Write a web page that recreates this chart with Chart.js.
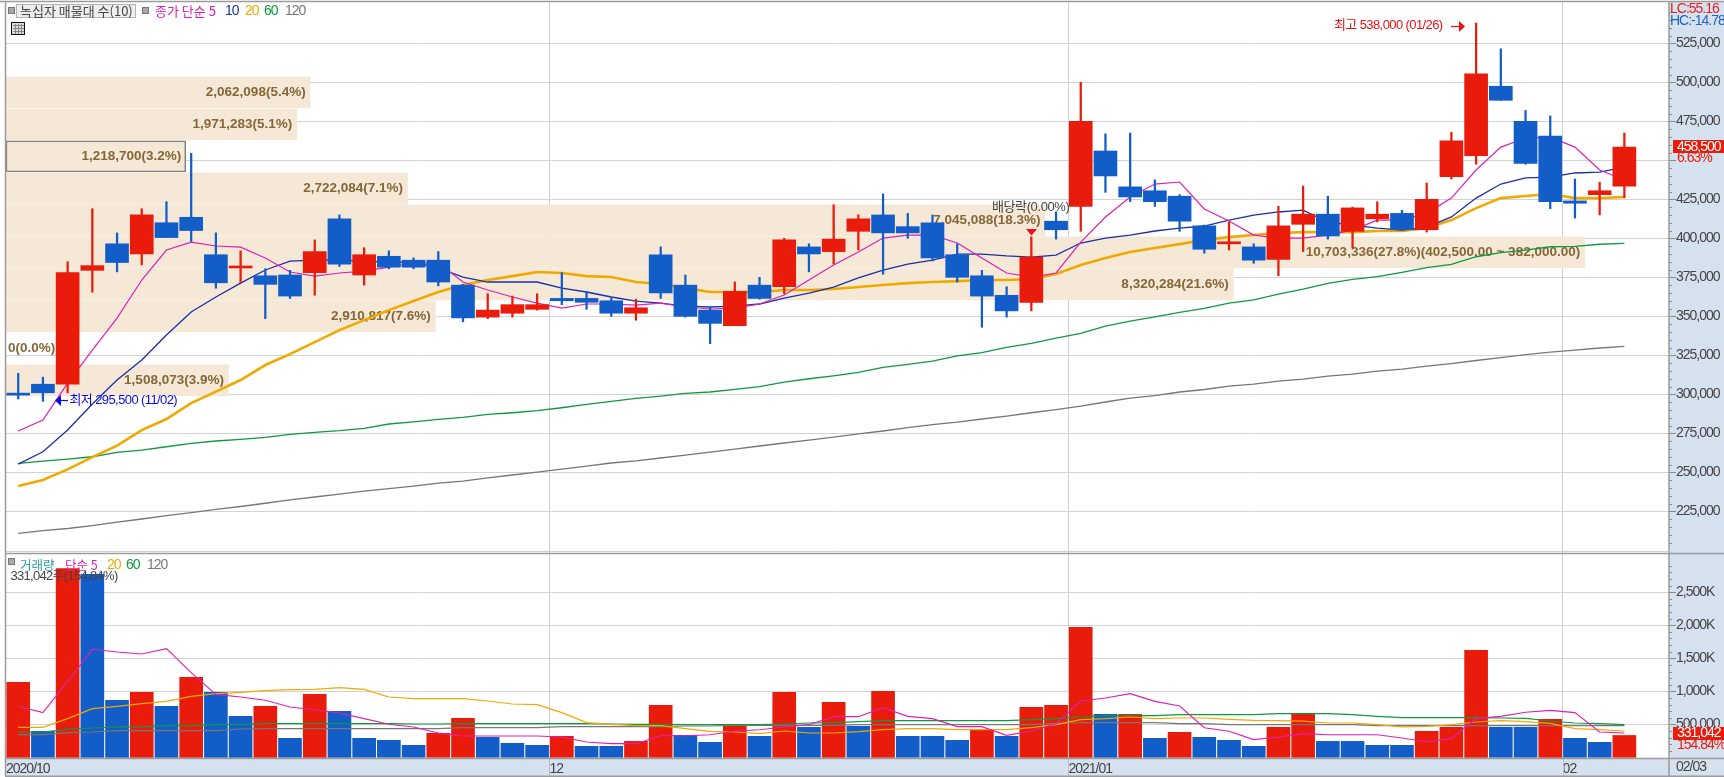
<!DOCTYPE html>
<html><head><meta charset="utf-8">
<style>html,body{margin:0;padding:0;background:#fff;overflow:hidden}canvas{display:block}</style>
<script src="https://cdn.jsdelivr.net/npm/chart.js@4/dist/chart.umd.min.js"></script>
</head><body><canvas id="c" width="1724" height="777"></canvas>
<script>
const opens=[300000,306500,306500,379500,396500,390000,410000,413500,389500,381000,376000,376500,378000,412500,376500,388500,386000,386000,370000,349500,352000,354500,361500,361500,360000,352000,389500,370000,354000,344000,370000,369000,394500,391500,404500,415000,407500,410000,389500,376000,363500,359000,411000,420500,456000,433000,430500,427000,408000,396500,394500,386500,409000,415500,404500,412500,416000,405500,439500,453000,497500,475000,465500,424000,428000,433500];
const highs=[313500,311000,385000,419000,403500,419000,423500,454500,403500,392000,380500,379500,399000,415000,394000,392000,387500,391500,370500,364500,363000,364500,378000,366000,361500,361000,394500,376500,356000,372000,375000,400000,396500,421500,415000,428500,416000,415000,396500,379500,369000,401000,417000,500000,467000,467500,437500,428000,408500,410500,396500,420500,433500,427000,420000,423500,418000,435500,468000,538000,521500,482000,478500,438000,436000,467500];
const lows=[297000,295500,301000,365500,378500,383000,400500,398000,368000,371500,348500,361500,363500,382000,370000,380500,380500,369500,346500,348500,349500,354000,357500,354500,350000,347500,361500,349500,332500,344000,361000,364500,378500,383500,392500,377000,400000,385500,372000,343000,349500,353500,399500,404500,429500,423500,420500,404500,390500,392500,384000,376000,391500,399500,394000,410500,405500,404000,438000,447500,488500,447500,419000,413000,415000,426000];
const closes=[299500,301000,378000,382500,384500,415000,400500,405000,371500,381000,370500,363000,391500,383500,389500,381500,381500,372000,349000,354000,357500,357500,360000,359000,352000,355500,365000,350000,345500,366000,361500,399000,390000,399500,412500,403500,403500,387500,375000,363000,353500,388000,405500,475000,440000,426500,423500,411000,393000,397500,386000,408000,415500,401500,419500,415500,405500,425000,462500,505500,488500,448000,423500,422500,430500,458500];
const ma5=[276500,283500,307200,328400,348900,373300,392500,397600,395100,394400,387400,378400,375800,377800,379000,381600,384200,384200,372000,366900,362400,358500,355300,357900,357900,357200,358500,356000,354700,355300,357900,363700,373300,382900,391200,400200,402100,402100,397000,387400,377800,375200,377800,397600,413700,426500,434800,436100,418800,411100,402100,400200,400200,402100,405300,411700,411700,416200,425800,443800,458500,464300,464900,458500,443800,437400];
const ma10=[255300,263200,277100,293800,309200,322000,338000,352800,362400,371300,379700,385400,386100,386100,385400,384800,384800,381000,375200,372000,372000,372000,368100,365600,362400,359800,358500,356600,356000,356600,357900,361700,364900,368800,374600,379700,383500,386100,389900,389900,388700,388000,389300,397000,400200,402100,404700,406600,407900,411700,414900,416900,418100,410400,408500,406600,405300,407200,413700,425800,434800,438700,439300,441900,442500,445700];
const ma20=[241200,245100,251900,259800,267100,277100,284200,294400,301700,309200,318800,325800,333500,341200,347600,354000,359800,365600,370100,373300,375800,378400,377800,375800,375200,372000,370700,368100,365600,365600,365600,366900,366900,367500,368800,370100,371300,372000,372600,373300,373300,373900,377100,382900,387400,391200,393800,396300,398900,400800,402100,403400,404000,404000,404000,404700,404700,406600,411700,419400,425800,427100,428400,425800,425800,426500];
const ma60=[255800,257200,258500,260000,262800,264300,266400,268600,270100,271200,272400,274400,275600,276700,278200,281000,282400,284000,285300,287200,288200,289500,291400,293600,295500,297400,298900,300600,301500,303200,304900,307900,310000,311900,314100,317300,319200,321300,324600,326700,330100,332700,336100,339100,343800,347000,349600,352600,355100,358500,360500,364300,367500,371200,373700,375400,378200,381200,383300,388200,390800,392500,394600,394900,396200,396800];
const ma120=[210900,212600,214000,215800,218100,220100,222300,224200,226200,228100,230200,232300,234200,236100,238000,239600,241200,243100,244400,246400,248300,250200,252100,254000,256000,257400,259200,261100,263000,264900,266900,268800,270700,272600,274600,276500,278700,280600,282200,284200,286100,288200,290200,292500,295100,297600,299200,301500,303100,305300,306600,308500,309800,311700,313000,314900,316200,318100,319700,321700,323600,325500,327100,328400,329700,330800];
const volumes=[1136000,394000,2860000,2772000,864000,985000,773000,1212000,985000,621000,773000,288000,954000,697000,288000,258000,182000,364000,591000,303000,212000,182000,318000,167000,167000,242000,788000,333000,227000,485000,318000,985000,455000,833000,470000,1000000,318000,318000,258000,409000,318000,758000,788000,1970000,651000,651000,288000,379000,303000,258000,167000,455000,656000,242000,242000,182000,182000,394000,455000,1621000,455000,455000,576000,288000,227000,331042];
const volUp=[1,0,1,0,0,1,0,1,0,0,1,0,1,0,0,0,0,1,1,0,0,0,1,0,0,1,1,0,0,1,0,1,0,1,0,1,0,0,0,1,0,1,1,1,0,1,0,1,0,0,0,1,1,0,0,0,0,1,1,1,0,0,1,0,0,1];
const vma5=[773000,677000,1146000,1636000,1596000,1566000,1646000,1283000,954000,914000,864000,763000,722000,672000,586000,500000,460000,369000,323000,323000,323000,323000,308000,232000,207000,207000,328000,328000,343000,399000,419000,460000,495000,616000,616000,752000,621000,586000,465000,465000,333000,399000,510000,853000,899000,965000,848000,778000,449000,394000,268000,308000,359000,343000,343000,343000,293000,237000,283000,586000,621000,682000,712000,677000,384000,369000];
const vma20=[455000,455000,586000,737000,773000,813000,848000,924000,965000,985000,1010000,1025000,1030000,1055000,1030000,914000,889000,889000,889000,853000,808000,798000,677000,525000,500000,480000,480000,434000,394000,384000,359000,399000,369000,369000,389000,419000,434000,434000,419000,419000,419000,449000,495000,571000,586000,611000,586000,596000,596000,576000,561000,555000,550000,520000,520000,495000,460000,470000,495000,535000,555000,540000,515000,434000,419000,399000];
const vma60=[384000,384000,424000,444000,460000,460000,480000,480000,495000,500000,510000,510000,510000,510000,510000,510000,505000,505000,510000,510000,510000,510000,510000,510000,505000,500000,500000,495000,495000,495000,495000,505000,520000,525000,540000,555000,555000,555000,555000,555000,555000,571000,586000,611000,631000,631000,631000,646000,646000,646000,646000,661000,661000,661000,646000,621000,601000,601000,601000,601000,596000,591000,550000,520000,510000,495000];
const vma120=[343000,343000,374000,384000,404000,404000,404000,404000,404000,429000,434000,434000,434000,434000,434000,434000,434000,434000,449000,449000,449000,449000,465000,465000,465000,465000,465000,475000,475000,485000,485000,485000,485000,485000,495000,495000,495000,495000,495000,495000,495000,495000,515000,525000,525000,525000,525000,510000,510000,495000,495000,495000,495000,495000,495000,480000,480000,480000,480000,480000,480000,480000,480000,480000,480000,480000];
const profileMid=[493500,473000,452500,432000,411500,391000,370500,350000,329500,309000];
const profileVol=[2062098,1971283,1218700,2722084,7045088,10703336,8320284,2910817,0,1508073];
const profileText=["2,062,098(5.4%)","1,971,283(5.1%)","1,218,700(3.2%)","2,722,084(7.1%)","7,045,088(18.3%)","10,703,336(27.8%)(402,500.00 ~ 382,000.00)","8,320,284(21.6%)","2,910,817(7.6%)","0(0.0%)","1,508,073(3.9%)"];
const monthPos=[-0.494,21.5,42.5,62.5];
const monthLabels=["2020/10","12","2021/01","02"];
const priceTicks=[225000,250000,275000,300000,325000,350000,375000,400000,425000,450000,475000,500000,525000];
const priceTickLabels=["225,000","250,000","275,000","300,000","325,000","350,000","375,000","400,000","425,000","","475,000","500,000","525,000"];
const volTicks=[500000,1000000,1500000,2000000,2500000];
const volTickLabels=["500,000","1,000K","1,500K","2,000K","2,500K"];

const RED='#e91c0b',BLUE='#135dc9',MAG='#e01fb4',NAVY='#1b2fa6',ORG='#f0a900',GRN='#0e9a3f',GRY='#777777';
const LAT='"Liberation Sans","Noto Sans CJK KR",sans-serif';
const KR='"Noto Sans CJK KR","Liberation Sans",sans-serif';
const idx=opens.map((_,i)=>i);
const line=(arr,color,w,yid,order)=>({type:'line',data:arr.map((v,i)=>({x:i,y:v})),borderColor:color,borderWidth:w,pointRadius:0,tension:0,yAxisID:yid,xAxisID:'x',order});

function txt(ctx,s,x,y,color,font,align,ls){ctx.fillStyle=color;ctx.font=font;ctx.letterSpacing=(ls===undefined?'0px':ls);ctx.textAlign=align||'left';ctx.textBaseline='middle';ctx.fillText(s,x,y);}
const NUM='-1px';
const noPad=(s)=>{s.paddingTop=0;s.paddingBottom=0;s.paddingLeft=0;s.paddingRight=0;};

const deco={
 id:'deco',
 beforeDraw(ch){
  const c=ch.ctx;
  c.save();c.fillStyle='#fff';c.fillRect(0,0,1724,777);
  c.fillStyle='#d6e1ef';c.fillRect(1669,2,55,775);c.fillRect(5,758,1719,19);
  c.restore();
  c.letterSpacing=NUM;
 },
 afterDatasetDraw(ch,args){
  if(args.index!==0)return;
  const c=ch.ctx,y=ch.scales.y,x2=ch.scales.x2;
  c.save();
  profileText.forEach((s,i)=>{
   const py=y.getPixelForValue(profileMid[i]);
   const f='bold 13.5px '+LAT;
   if(profileVol[i]>500000)txt(c,s,x2.getPixelForValue(profileVol[i])-4.5,py,'#856738',f,'right');
   else txt(c,s,8,py,'#856738',f,'left');
  });
  c.restore();
 },
 afterDraw(ch){
  const c=ch.ctx,y=ch.scales.y,v=ch.scales.yv,xs=ch.scales.x;
  c.save();
  c.strokeStyle='#8a8a8a';c.lineWidth=1;c.beginPath();
  for(let p=205000;p<=545000;p+=5000){if(p%25000===0)continue;const py=Math.round(y.getPixelForValue(p))+.5;c.moveTo(1669,py);c.lineTo(1672,py);}
  for(let p=100000;p<=3000000;p+=100000){if(p%500000===0)continue;const py=Math.round(v.getPixelForValue(p))+.5;c.moveTo(1669,py);c.lineTo(1672,py);}
  c.stroke();
  c.strokeStyle='#bdbdbd';c.beginPath();
  monthPos.slice(1).forEach(m=>{const px=Math.round(xs.getPixelForValue(m))+.5;c.moveTo(px,758);c.lineTo(px,776);});
  c.stroke();
  c.strokeStyle='#9b9b9b';c.lineWidth=1.5;c.beginPath();
  c.moveTo(0,1.5);c.lineTo(1724,1.5);
  c.moveTo(5.5,1);c.lineTo(5.5,776);
  c.moveTo(1669,1);c.lineTo(1669,776);
  c.moveTo(5,553.5);c.lineTo(1724,553.5);
  c.moveTo(5,758.5);c.lineTo(1724,758.5);
  c.moveTo(5,776.3);c.lineTo(1724,776.3);
  c.stroke();
  c.strokeStyle='#d0d0d0';c.lineWidth=1;c.beginPath();c.moveTo(6,551.5);c.lineTo(1669,551.5);c.stroke();
  const sq=(x,yy)=>{c.fillStyle='#a8a8a8';c.fillRect(x,yy,5,5);c.strokeStyle='#777';c.lineWidth=1;c.strokeRect(x-.5,yy-.5,6,6);};
  sq(9,8);c.fillStyle='#eeeeee';c.fillRect(16,4,120,13);c.strokeStyle='#b5b5b5';c.strokeRect(16.5,4.5,119,13);
  txt(c,'녹십자 매물대 수(10)',20,11,'#444','13px '+KR);
  sq(143,8);
  txt(c,'종가 단순 5',155,11,MAG,'13px '+KR);
  const f14='14px '+LAT;
  txt(c,'10',225,11,NAVY,f14,'left',NUM);txt(c,'20',245,11,ORG,f14,'left',NUM);txt(c,'60',264,11,GRN,f14,'left',NUM);txt(c,'120',285,11,GRY,f14,'left',NUM);
  c.fillStyle='#ddd';c.fillRect(12,22,13,12);c.strokeStyle='#111';c.lineWidth=1;c.strokeRect(11.5,22.5,13,12);
  c.strokeStyle='#888';c.beginPath();c.moveTo(13,25.5);c.lineTo(24,25.5);c.moveTo(13,28.5);c.lineTo(24,28.5);c.moveTo(13,31.5);c.lineTo(24,31.5);c.moveTo(15.5,24);c.lineTo(15.5,34);c.moveTo(18.5,24);c.lineTo(18.5,34);c.moveTo(21.5,24);c.lineTo(21.5,34);c.stroke();
  sq(9,559);
  txt(c,'거래량',20,565,'#2a9a9a','12.5px '+KR);
  txt(c,'단순 5',65,565,MAG,'12.5px '+KR);
  txt(c,'20',107,565,ORG,f14,'left',NUM);txt(c,'60',126,565,GRN,f14,'left',NUM);txt(c,'120',147,565,GRY,f14,'left',NUM);
  txt(c,'331,042주(154.84%)',10.5,576,'#444','13px '+LAT,'left','-0.7px');
  txt(c,'LC:55.16',1670,9,'#e8201a',f14,'left',NUM);
  txt(c,'HC:-14.78',1670,21,'#1f62c8',f14,'left',NUM);
  c.fillStyle=RED;c.fillRect(1673,140,51,13);
  txt(c,'458,500',1677,147,'#fff',f14,'left',NUM);
  txt(c,'6.63%',1677,158,RED,f14,'left',NUM);
  c.fillStyle=RED;c.fillRect(1673,727,51,13);
  txt(c,'331,042',1677,733.5,'#fff',f14,'left',NUM);
  txt(c,'154.84%',1677,745,RED,f14,'left',NUM);
  txt(c,'02/03',1676,767,'#444',f14,'left',NUM);
  const a13='13px '+LAT;
  txt(c,'최고 538,000 (01/26)',1334,25,'#f01010',a13,'left','-0.6px');
  c.strokeStyle='#f01010';c.lineWidth=1.2;c.beginPath();c.moveTo(1451,26.5);c.lineTo(1461,26.5);c.stroke();
  c.fillStyle='#f01010';c.beginPath();c.moveTo(1465,26.5);c.lineTo(1459,21);c.lineTo(1459,32);c.closePath();c.fill();
  c.strokeStyle='#0a0ae8';c.beginPath();c.moveTo(60,400.5);c.lineTo(68,400.5);c.stroke();
  c.fillStyle='#0a0ae8';c.beginPath();c.moveTo(55,400.5);c.lineTo(61,395);c.lineTo(61,406);c.closePath();c.fill();
  txt(c,'최저 295,500 (11/02)',69.5,400,'#0a0ae8',a13,'left','-0.6px');
  txt(c,'배당락(0.00%)',992,207,'#444',a13,'left','-0.4px');
  c.fillStyle='#f01010';c.beginPath();c.moveTo(1026,229);c.lineTo(1037,229);c.lineTo(1031.5,235.5);c.closePath();c.fill();
  c.restore();
 }
};

new Chart(document.getElementById('c'),{
 type:'bar',
 plugins:[deco],
 data:{datasets:[
  {type:'bar',indexAxis:'y',xAxisID:'x2',yAxisID:'y',order:100,grouped:false,barThickness:31,
   data:profileMid.map((p,i)=>({x:profileVol[i],y:p})),backgroundColor:'#f5e8d6',
   borderColor:profileVol.map((_,i)=>i===2?'#808080':'rgba(0,0,0,0)'),borderWidth:profileVol.map((_,i)=>i===2?1.5:0),borderSkipped:false},
  line(ma120,GRY,1.3,'y',50),line(ma60,GRN,1.3,'y',49),line(ma20,ORG,2.6,'y',48),line(ma10,NAVY,1.3,'y',47),line(ma5,MAG,1.2,'y',46),
  {type:'bar',xAxisID:'x',yAxisID:'y',order:20,grouped:false,barThickness:1.6,
   data:idx.map(i=>({x:i,y:[lows[i],highs[i]]})),backgroundColor:idx.map(i=>closes[i]>=opens[i]?RED:BLUE)},
  {type:'bar',xAxisID:'x',yAxisID:'y',order:10,grouped:false,barThickness:23,minBarLength:2,
   data:idx.map(i=>({x:i,y:[opens[i],closes[i]]})),backgroundColor:idx.map(i=>closes[i]>=opens[i]?RED:BLUE)},
  {type:'bar',xAxisID:'x',yAxisID:'yv',order:9,grouped:false,barThickness:23,
   data:idx.map(i=>({x:i,y:volumes[i]})),backgroundColor:idx.map(i=>volUp[i]?RED:BLUE)},
  line(vma120,GRY,1.2,'yv',8),line(vma60,GRN,1.2,'yv',7),line(vma20,ORG,1.2,'yv',6),line(vma5,MAG,1.1,'yv',5)
 ]},
 options:{
  responsive:false,animation:false,devicePixelRatio:1,
  layout:{padding:{top:2,left:6,right:0,bottom:0}},
  plugins:{legend:{display:false},tooltip:{enabled:false},title:{display:false}},
  scales:{
   x:{type:'linear',position:'bottom',min:-0.494,max:66.806,offset:false,
      afterBuildTicks(s){s.ticks=monthPos.map(v=>({value:v}));},
      afterFit(s){s.height=19;noPad(s);},
      border:{display:false},
      grid:{display:true,offset:false,color:(c)=>c.index===0?'rgba(0,0,0,0)':'#cfcfcf',lineWidth:1,drawTicks:false},
      ticks:{autoSkip:false,maxRotation:0,minRotation:0,align:'start',padding:3,color:'#444',font:{family:LAT,size:14},
        callback:(v,i)=>monthLabels[i]}},
   x2:{type:'linear',display:false,offset:false,grid:{offset:false},min:0,max:11275000},
   y:{type:'linear',position:'right',stack:'p',stackWeight:551,min:198300,max:551500,offset:false,
      afterBuildTicks(s){s.ticks=priceTicks.map(v=>({value:v}));},
      afterFit(s){s.width=55;noPad(s);},
      border:{display:false},
      grid:{offset:false,color:'#d3d3d3',lineWidth:1,tickColor:'#8a8a8a',tickLength:7},
      ticks:{autoSkip:false,padding:0,color:'#444',font:{family:LAT,size:14},
        callback:(v,i)=>priceTickLabels[i]}},
   yv:{type:'linear',position:'right',stack:'p',stackWeight:205,min:-10000,max:3095000,offset:false,
      afterBuildTicks(s){s.ticks=volTicks.map(v=>({value:v}));},
      afterFit(s){s.width=55;noPad(s);},
      border:{display:false},
      grid:{offset:false,color:'#d3d3d3',lineWidth:1,tickColor:'#8a8a8a',tickLength:7},
      ticks:{autoSkip:false,padding:0,color:'#444',font:{family:LAT,size:14},
        callback:(v,i)=>volTickLabels[i]}}
  }
 }
});
</script></body></html>
